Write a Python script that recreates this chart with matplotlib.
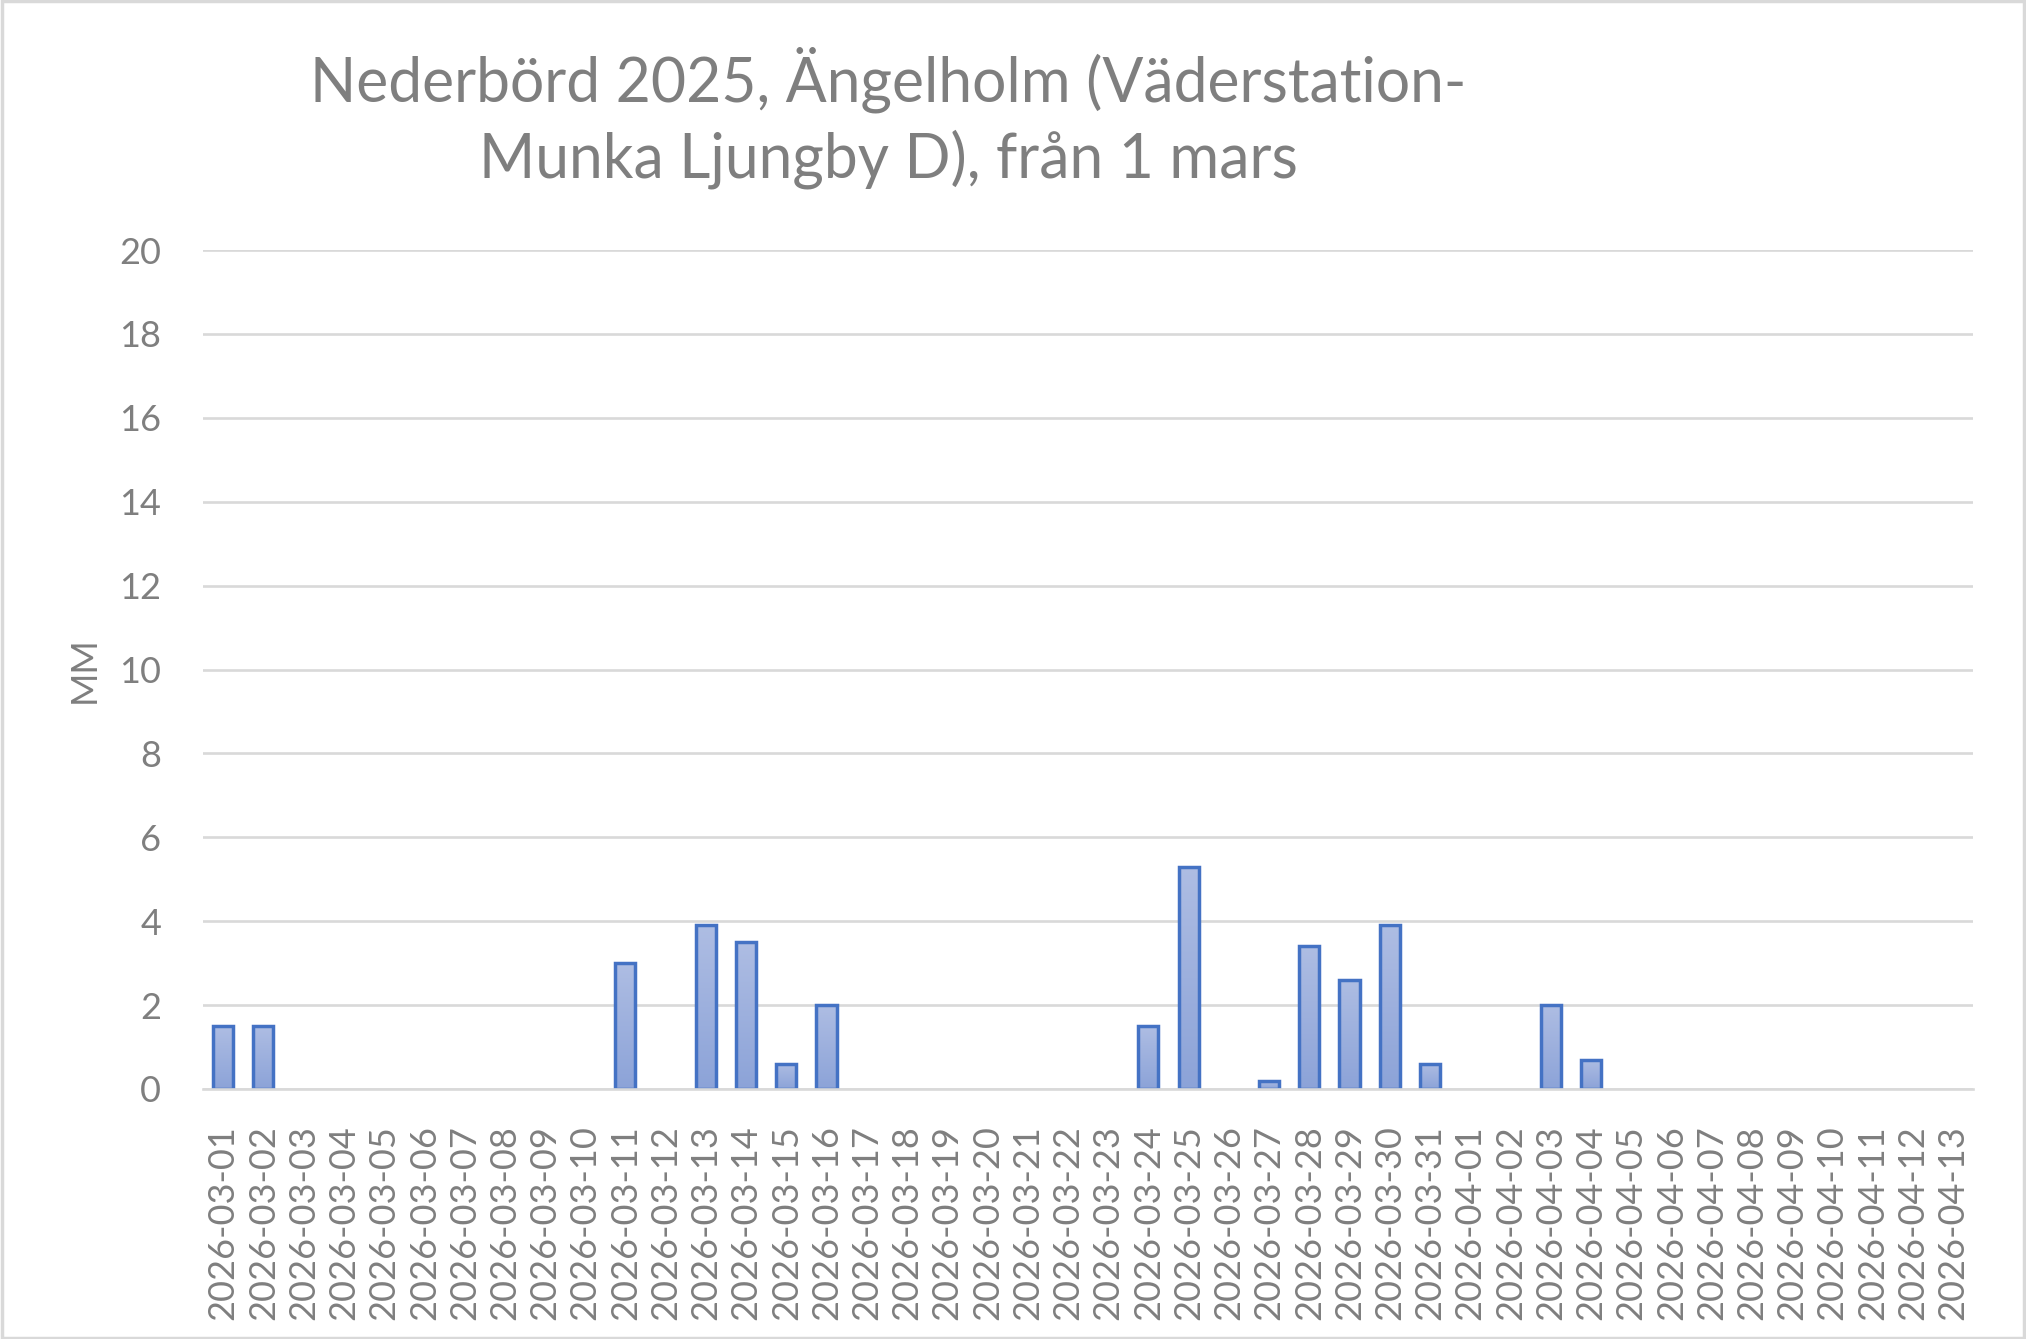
import matplotlib
matplotlib.use("Agg")
import matplotlib.pyplot as plt
import numpy as np
from matplotlib.colors import LinearSegmentedColormap

# ---- data ----
dates = ([f"2026-03-{d:02d}" for d in range(1, 32)] +
         [f"2026-04-{d:02d}" for d in range(1, 14)])
values = [1.5, 1.5, 0, 0, 0, 0, 0, 0, 0, 0,
          3.0, 0, 3.9, 3.5, 0.6, 2.0, 0, 0, 0, 0,
          0, 0, 0, 1.5, 5.3, 0, 0.2, 3.4, 2.6, 3.9,
          0.6, 0, 0, 2.0, 0.7, 0, 0, 0, 0, 0,
          0, 0, 0, 0]
yticks = list(range(0, 21, 2))
title = "Nederbörd 2025, Ängelholm (Väderstation-\nMunka Ljungby D), från 1 mars"
ylabel = "MM"

# ---- style ----
FONT = ["Lato", "DejaVu Sans"]
plt.rcParams["font.family"] = FONT
TXT = "#7f7f7f"
GRID = "#d9d9d9"
EDGE = "#4472c4"

fig = plt.figure(figsize=(20.26, 13.39), dpi=100)
ax = fig.add_axes([203 / 2026, 1 - 1089 / 1339, (1973 - 203) / 2026, (1089 - 250) / 1339])

x = np.arange(len(dates))
edgecolors = [EDGE if v > 0 else "none" for v in values]
bars = ax.bar(x, values, width=0.5, facecolor="none", edgecolor=edgecolors,
              linewidth=2.5, zorder=3)

cmap = LinearSegmentedColormap.from_list("g", ["#8ca3d8", "#aebde3"])
grad = np.linspace(0, 1, 256).reshape(-1, 1)
for b, v in zip(bars, values):
    if v <= 0:
        continue
    x0 = b.get_x()
    w = b.get_width()
    im = ax.imshow(grad, cmap=cmap, origin="lower", aspect="auto",
                   extent=[x0, x0 + w, 0, v], zorder=2, interpolation="bilinear")
    im.set_clip_path(b)

ax.set_xlim(-0.5, len(dates) - 0.5)
ax.set_ylim(0, 20)
ax.set_yticks(yticks)
ax.set_xticks(x)
ax.set_xticklabels(dates, rotation=90)
ax.grid(axis="y", color=GRID, linewidth=1.9, zorder=0)
ax.set_axisbelow(True)
for s in ["top", "right", "left"]:
    ax.spines[s].set_visible(False)
ax.spines["bottom"].set_color(GRID)
ax.spines["bottom"].set_linewidth(1.9)
ax.spines["bottom"].set_zorder(4)
ax.tick_params(axis="both", length=0, colors=TXT, labelsize=26)
ax.tick_params(axis="y", pad=30)
ax.tick_params(axis="x", pad=26)
ax.set_ylabel(ylabel, color=TXT, fontsize=26, labelpad=13)

fig.text(888 / 2026, 1 - 118 / 1339, title, ha="center", va="center",
         fontsize=43.7, color=TXT, linespacing=1.33)

# outer border
fig.patches.append(plt.Rectangle((0.001, 0.001), 0.998, 0.998, transform=fig.transFigure,
                                 fill=False, edgecolor=GRID, linewidth=2.5))

fig.savefig("out.png", dpi=100, facecolor="white")
